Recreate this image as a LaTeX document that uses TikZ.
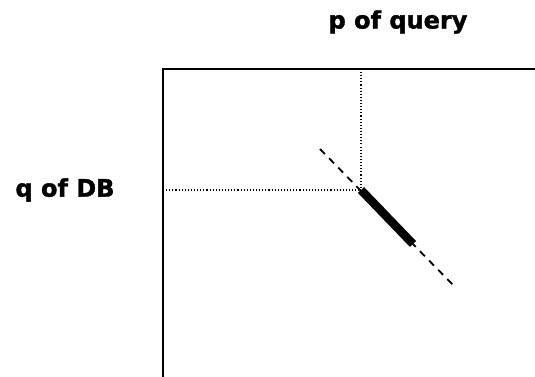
\documentclass[tikz,border=0pt]{standalone}
\usepackage{fontspec}
\setmainfont{DejaVu Sans}[BoldFeatures={FakeBold=1.5}]
\begin{document}
\begin{tikzpicture}[x=1pt,y=-1pt,
  lbl/.style={font=\bfseries\fontsize{24}{28}\selectfont, inner sep=0pt},
  frame/.style={line width=2pt},
  guide/.style={dotted, line width=1.1pt},
  ext/.style={line width=1.8pt, dash pattern=on 7pt off 6pt},
  seg/.style={line width=8.5pt}]
\useasboundingbox (0,0) rectangle (535,377);
\coordinate (tl) at (163,69);
\coordinate (tr) at (536,69);
\coordinate (bl) at (163,378);
\coordinate (px) at (361,69);
\coordinate (qy) at (163,190);
\coordinate (pt) at (361,190);
\coordinate (se) at (413,244);
\coordinate (d1) at (320,149);
\coordinate (d2) at (453,285);
\node[lbl] (pq) at (398,22) {p of query};
\node[lbl] (qd) at (65,190) {q of DB};
\draw[frame] (bl) -- (tl) -- (tr);
\draw[guide] (px) -- (pt);
\draw[guide] (qy) -- (pt);
\draw[ext] (d1) -- (d2);
\draw[seg] (pt) -- (se);
\end{tikzpicture}
\end{document}
